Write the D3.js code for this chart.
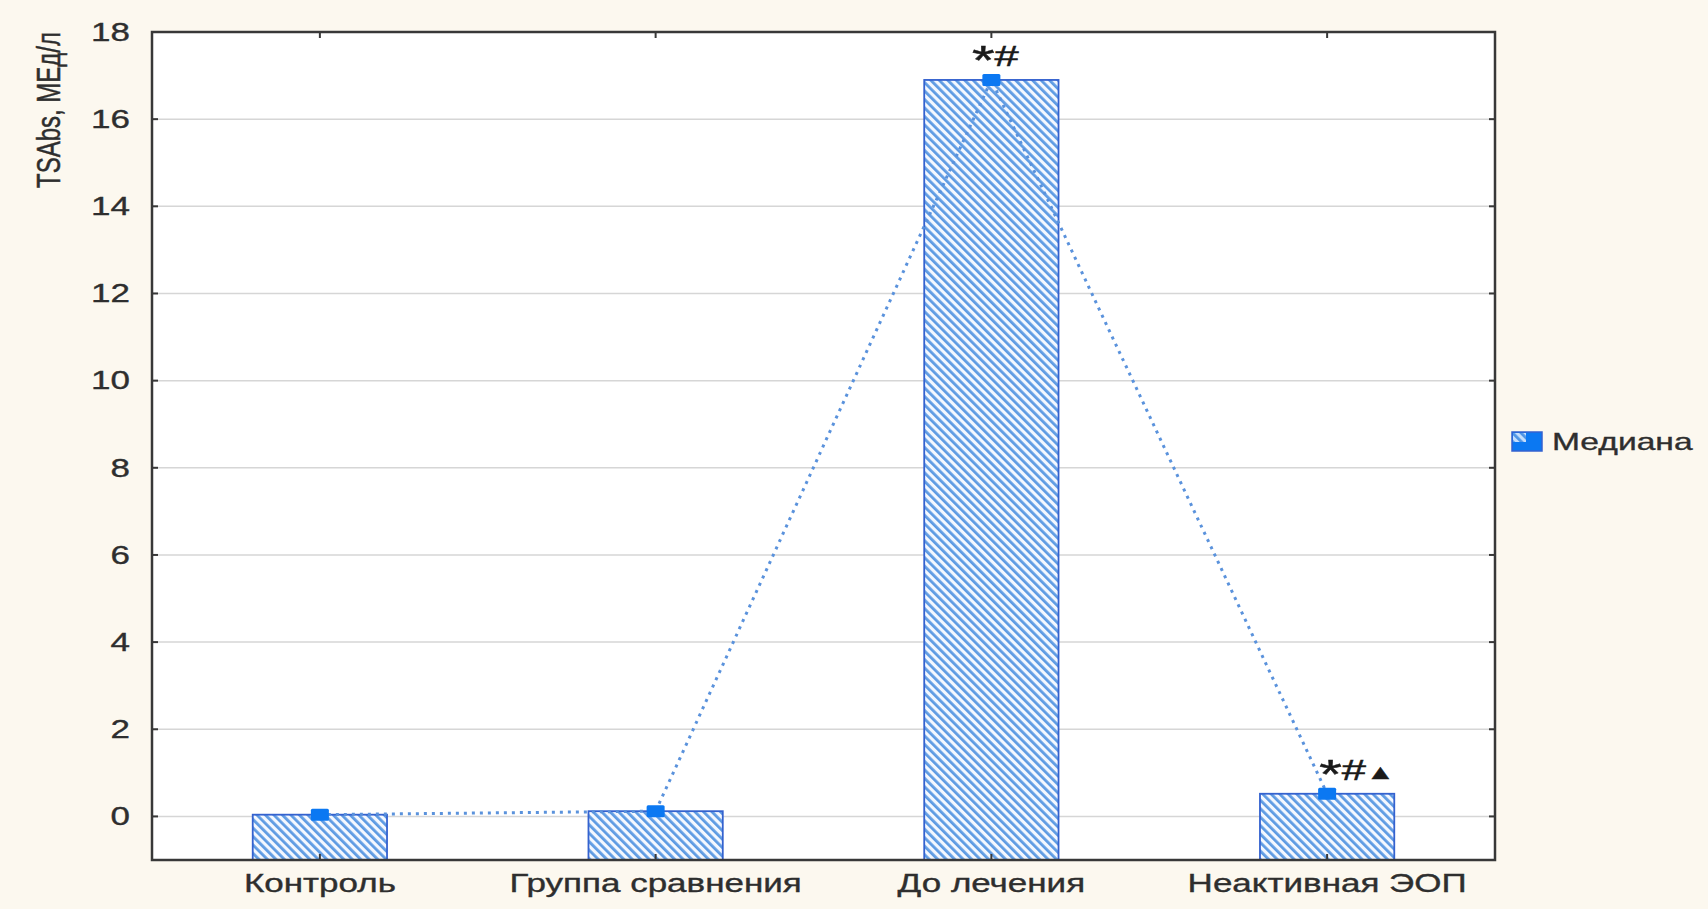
<!DOCTYPE html>
<html>
<head>
<meta charset="utf-8">
<script src="https://cdn.jsdelivr.net/npm/d3@7"></script>
<style>
  html, body { margin: 0; padding: 0; background: #fcf8ef; }
  svg { display: block; }
  text { font-family: "Liberation Sans", Arial, sans-serif; fill: #2e2e2e; stroke: #2e2e2e; stroke-width: 0.35px; }
</style>
</head>
<body>
<svg id="chart" width="1708" height="909"></svg>
<script>
const categories = ["Контроль", "Группа сравнения", "До лечения", "Неактивная ЭОП"];
const medians = [0.04, 0.12, 16.9, 0.52];
const annotations = ["", "", "*#", "*#▲"];
const yTicks = [0, 2, 4, 6, 8, 10, 12, 14, 16, 18];
const yLabel = "TSAbs, МЕд/л";
const legendLabel = "Медиана";

const svg = d3.select("#chart");
const m = { left: 152, right: 1495, top: 32, bottom: 860 };
const SX = 1.4;

const x = d3.scaleBand().domain(categories).range([m.left, m.right])
  .paddingInner(0.6).paddingOuter(0.3);
const y = d3.scaleLinear().domain([-1, 18]).range([m.bottom, m.top]);

// pattern
const defs = svg.append("defs");
const pat = defs.append("pattern").attr("id", "hatch")
  .attr("patternUnits", "userSpaceOnUse").attr("width", 6).attr("height", 6)
  .attr("patternTransform", "rotate(-45)");
pat.append("rect").attr("width", 6).attr("height", 6).attr("fill", "#f4f8ff");
pat.append("rect").attr("x", 0).attr("y", 0).attr("width", 2.8).attr("height", 6).attr("fill", "#5e9be3");

// plot background
svg.append("rect").attr("x", m.left).attr("y", m.top)
  .attr("width", m.right - m.left).attr("height", m.bottom - m.top).attr("fill", "#ffffff");

// grid
svg.append("g").selectAll("line").data(yTicks.filter(d => d < 18)).join("line")
  .attr("x1", m.left).attr("x2", m.right)
  .attr("y1", d => y(d)).attr("y2", d => y(d))
  .attr("stroke", "#d6d6d6").attr("stroke-width", 1.5);

// bars
svg.append("g").selectAll("rect").data(categories).join("rect")
  .attr("x", d => x(d)).attr("width", x.bandwidth())
  .attr("y", (d, i) => y(medians[i]))
  .attr("height", (d, i) => y(-1) - y(medians[i]))
  .attr("fill", "url(#hatch)")
  .attr("stroke", "#3462cf").attr("stroke-width", 1.8);

// dotted line
const line = d3.line().x(d => x(d[0]) + x.bandwidth() / 2).y(d => y(d[1]));
svg.append("path").datum(categories.map((c, i) => [c, medians[i]]))
  .attr("d", line).attr("fill", "none")
  .attr("stroke", "#5a92dc").attr("stroke-width", 3)
  .attr("stroke-dasharray", "3,5");

// markers
svg.append("g").selectAll("rect").data(categories).join("rect")
  .attr("x", d => x(d) + x.bandwidth() / 2 - 9).attr("width", 18)
  .attr("y", (d, i) => y(medians[i]) - 6).attr("height", 12)
  .attr("rx", 1.5)
  .attr("fill", "#0b78f2");

// frame
svg.append("rect").attr("x", m.left).attr("y", m.top)
  .attr("width", m.right - m.left).attr("height", m.bottom - m.top)
  .attr("fill", "none").attr("stroke", "#383838").attr("stroke-width", 2.5);

// ticks inside
const tk = svg.append("g").attr("stroke", "#383838").attr("stroke-width", 2);
yTicks.forEach(t => {
  tk.append("line").attr("x1", m.left).attr("x2", m.left + 6).attr("y1", y(t)).attr("y2", y(t));
  tk.append("line").attr("x1", m.right).attr("x2", m.right - 6).attr("y1", y(t)).attr("y2", y(t));
});
categories.forEach(c => {
  const cx = x(c) + x.bandwidth() / 2;
  tk.append("line").attr("x1", cx).attr("x2", cx).attr("y1", m.bottom).attr("y2", m.bottom - 6);
  tk.append("line").attr("x1", cx).attr("x2", cx).attr("y1", m.top).attr("y2", m.top + 6);
});

// y tick labels
svg.append("g").selectAll("text").data(yTicks).join("text")
  .attr("transform", d => `translate(130,${y(d)}) scale(${SX},1)`)
  .attr("dy", "0.35em").attr("text-anchor", "end")
  .style("font-size", "25px").text(d => d);

// x labels
svg.append("g").selectAll("text").data(categories).join("text")
  .attr("transform", d => `translate(${x(d) + x.bandwidth() / 2},892) scale(${SX},1)`)
  .attr("text-anchor", "middle").style("font-size", "25px").text(d => d);

// y label
svg.append("text")
  .attr("transform", `translate(60,110) rotate(-90) scale(1,${SX})`)
  .attr("text-anchor", "middle").style("font-size", "24px").text(yLabel);

// annotations
const charSize = ch => ch === "*" ? 40 : (ch === "▲" ? 20 : 30);
const ann = svg.append("g").selectAll("text").data(categories).join("text")
  .attr("transform", (d, i) => `translate(${x(d) + x.bandwidth() / 2 + (i === 3 ? -8 : 4)},${y(medians[i]) - 14}) scale(1.45,1)`)
  .attr("text-anchor", (d, i) => i === 3 ? "start" : "middle")
  .style("fill", "#1a1a1a").style("stroke", "#1a1a1a").style("stroke-width", "0.5px");
ann.each(function(d, i) {
  const t = d3.select(this);
  Array.from(annotations[i]).forEach(ch => {
    t.append("tspan").style("font-size", charSize(ch) + "px")
      .attr("dy", ch === "*" ? 8 : (ch === "#" ? -8 : -1))
      .text(ch);
  });
});

// legend
const lg = svg.append("g");
lg.append("rect").attr("x", 1512).attr("y", 432).attr("width", 30).attr("height", 19)
  .attr("fill", "#0b78f2").attr("stroke", "#3462cf").attr("stroke-width", 1.5);
lg.append("rect").attr("x", 1513).attr("y", 433).attr("width", 13).attr("height", 9)
  .attr("fill", "url(#hatch)").attr("opacity", 0.8);
lg.append("text").attr("transform", `translate(1552,450) scale(${SX},1)`)
  .style("font-size", "24px").text(legendLabel);
</script>
</body>
</html>
